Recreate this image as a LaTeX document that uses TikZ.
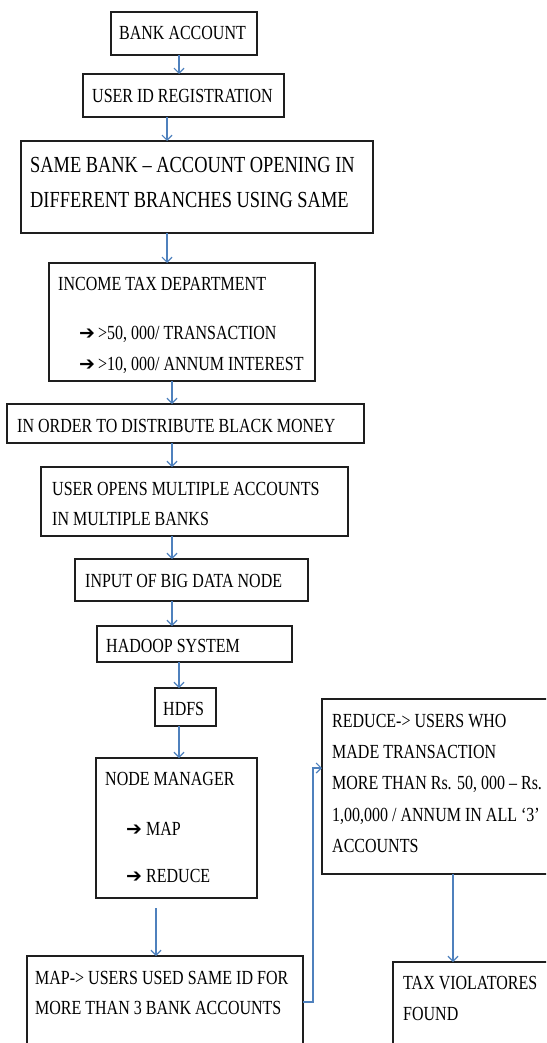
\documentclass[tikz,border=0pt]{standalone}
\usepackage{fontspec}
\setmainfont{Liberation Serif}[FakeStretch=0.8]
\newfontfamily\symfont{DejaVu Sans}
\usetikzlibrary{arrows.meta}
\definecolor{arrblue}{RGB}{79,129,189}
\definecolor{boxline}{RGB}{30,30,30}
\begin{document}
\begin{tikzpicture}[x=1pt,y=-1pt,
  box/.style={draw=boxline,line width=1.3pt,inner sep=0pt,outer sep=0pt,anchor=north west},
  txt/.style={inner sep=0pt,anchor=base west,font=\fontsize{20}{24}\selectfont},
  bigtxt/.style={txt,font=\fontsize{23}{27}\selectfont},
  bul/.style={inner sep=0pt,anchor=base west,font=\symfont\bfseries\fontsize{19}{22}\selectfont},
  arr/.style={draw=arrblue,line width=1.2pt,-{Straight Barb[length=5pt,width=10pt]}}]
\useasboundingbox (0,0) rectangle (546,1043);
\clip (0,0) rectangle (546,1043);
% boxes
\node[box,minimum width=146pt,minimum height=43pt] (ba) at (111,12) {};
\node[box,minimum width=201pt,minimum height=43pt] (uid) at (83,74) {};
\node[box,minimum width=352pt,minimum height=92pt] (same) at (21,141) {};
\node[box,minimum width=266pt,minimum height=118pt] (itd) at (49,263) {};
\node[box,minimum width=357pt,minimum height=39pt] (ord) at (7,404) {};
\node[box,minimum width=307pt,minimum height=69pt] (uom) at (41,467) {};
\node[box,minimum width=233pt,minimum height=42pt] (inp) at (75,559) {};
\node[box,minimum width=195pt,minimum height=36pt] (had) at (97,626) {};
\node[box,minimum width=61pt,minimum height=38pt] (hdfs) at (155,688) {};
\node[box,minimum width=161pt,minimum height=140pt] (nm) at (96,758) {};
\node[box,minimum width=276pt,minimum height=150pt] (mapb) at (27,956) {};
\node[box,minimum width=300pt,minimum height=175pt] (redb) at (322,699) {};
\node[box,minimum width=200pt,minimum height=150pt] (taxb) at (393,962) {};
% texts
\node[txt] (ba-t) at (119,40) {BANK ACCOUNT};
\node[txt] (uid-t) at (92,103) {USER ID REGISTRATION};
\node[bigtxt] (same-t1) at (30,172) {SAME BANK – ACCOUNT OPENING IN};
\node[bigtxt] (same-t2) at (30,207) {DIFFERENT BRANCHES USING SAME};
\node[txt] (itd-t) at (58,290) {INCOME TAX DEPARTMENT};
\node[bul] (itd-b1) at (79,339) {➔};
\node[txt] (itd-t1) at (98,339) {>50, 000/ TRANSACTION};
\node[bul] (itd-b2) at (79,370) {➔};
\node[txt] (itd-t2) at (98,370) {>10, 000/ ANNUM INTEREST};
\node[txt] (ord-t) at (17,432) {IN ORDER TO DISTRIBUTE BLACK MONEY};
\node[txt] (uom-t1) at (52,495) {USER OPENS MULTIPLE ACCOUNTS};
\node[txt] (uom-t2) at (52,525) {IN MULTIPLE BANKS};
\node[txt] (inp-t) at (85,587) {INPUT OF BIG DATA NODE};
\node[txt] (had-t) at (106,652) {HADOOP SYSTEM};
\node[txt] (hdfs-t) at (163,715) {HDFS};
\node[txt] (nm-t) at (105,785) {NODE MANAGER};
\node[bul] (nm-b1) at (126,835) {➔};
\node[txt] (nm-t1) at (146,835) {MAP};
\node[bul] (nm-b2) at (126,882) {➔};
\node[txt] (nm-t2) at (146,882) {REDUCE};
\node[txt] (map-t1) at (35,984) {MAP-> USERS USED SAME ID FOR};
\node[txt] (map-t2) at (35,1014) {MORE THAN 3 BANK ACCOUNTS};
\node[txt] (red-t1) at (332,727) {REDUCE-> USERS WHO};
\node[txt] (red-t2) at (332,758) {MADE TRANSACTION};
\node[txt] (red-t3) at (332,789) {MORE THAN Rs. 50, 000 – Rs.};
\node[txt] (red-t4) at (332,821) {1,00,000 / ANNUM IN ALL ‘3’};
\node[txt] (red-t5) at (332,852) {ACCOUNTS};
\node[txt] (tax-t1) at (403,989) {TAX VIOLATORES};
\node[txt] (tax-t2) at (403,1020) {FOUND};
% connectors
\coordinate (nmgap) at (156,908);
\draw[arr] (179,0 |- ba.south) -- (179,0 |- uid.north);
\draw[arr] (167,0 |- uid.south) -- (167,0 |- same.north);
\draw[arr] (167,0 |- same.south) -- (167,0 |- itd.north);
\draw[arr] (172,0 |- itd.south) -- (172,0 |- ord.north);
\draw[arr] (172,0 |- ord.south) -- (172,0 |- uom.north);
\draw[arr] (172,0 |- uom.south) -- (172,0 |- inp.north);
\draw[arr] (172,0 |- inp.south) -- (172,0 |- had.north);
\draw[arr] (179,0 |- had.south) -- (179,0 |- hdfs.north);
\draw[arr] (179,0 |- hdfs.south) -- (179,0 |- nm.north);
\draw[arr] (nmgap) -- (156,0 |- mapb.north);
\draw[arr] (mapb.east |- 0,1002) -- (313,1002) -- (313,768) -- (redb.west |- 0,768);
\draw[arr] (453,0 |- redb.south) -- (453,0 |- taxb.north);
\end{tikzpicture}
\end{document}
